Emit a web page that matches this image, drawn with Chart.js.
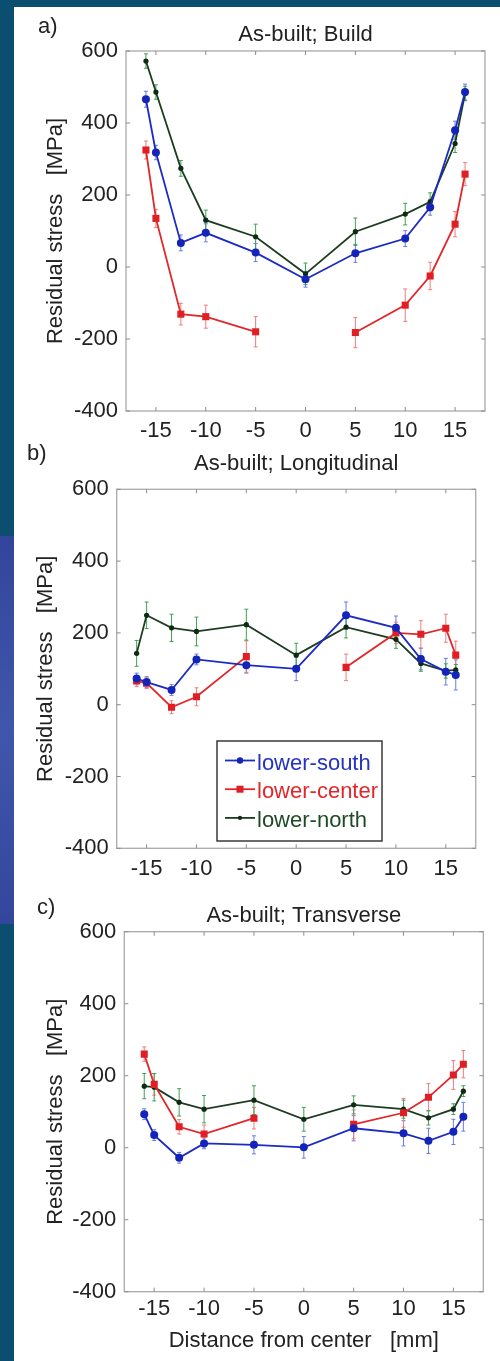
<!DOCTYPE html>
<html><head><meta charset="utf-8">
<script src="https://cdn.jsdelivr.net/npm/chart.js@4.4.0/dist/chart.umd.min.js"></script>
<style>
html,body{margin:0;padding:0;}
body{width:500px;height:1361px;background:#0b4e70;position:relative;overflow:hidden;}
#strip{position:absolute;left:0;top:536px;width:14px;height:388px;background:linear-gradient(#33459a,#3f57aa 50%,#34469b);}
#panel{position:absolute;left:14px;top:7px;width:486px;height:1354px;background:#fff;}
canvas{position:absolute;left:14px;}
</style></head>
<body>
<div id="strip"></div><div id="panel"></div>
<canvas id="ca" width="486" height="440" style="top:7px"></canvas>
<canvas id="cb" width="486" height="446" style="top:440px"></canvas>
<canvas id="cc" width="486" height="475" style="top:886px"></canvas>
<script>
// ---------- data ----------
const positions = [-16, -15, -12.5, -10, -5, 0, 5, 10, 12.5, 15, 16];
const xTickValues = [-15, -10, -5, 0, 5, 10, 15];
const yTickValues = [-400, -200, 0, 200, 400, 600];
const seriesNames = ['lower-south', 'lower-center', 'lower-north'];

// a) As-built; Build
const buildSouth  = [466, 318, 67, 95, 40, -34, 38, 79, 166, 380, 486];
const buildCenter = [325, 135, -131, -138, -180, null, -182, -106, -25, 119, 258];
const buildNorth  = [572, 486, 274, 130, 84, -19, 98, 147, 181, 343, 482];
const buildSouthErr  = [22, 20, 22, 25, 25, 22, 25, 22, 22, 25, 22];
const buildCenterErr = [25, 25, 30, 32, 42, null, 42, 45, 38, 35, 32];
const buildNorthErr  = [20, 20, 22, 28, 35, 30, 38, 30, 25, 25, 20];

// b) As-built; Longitudinal
const longSouth  = [73, 63, 41, 126, 110, 100, 249, 214, 127, 92, 83];
const longCenter = [66, 60, -7, 22, 134, null, 104, 200, 196, 213, 138];
const longNorth  = [143, 249, 214, 204, 223, 138, 216, 182, 115, 94, 97];
const longSouthErr  = [15, 15, 15, 15, 22, 33, 37, 33, 30, 37, 42];
const longCenterErr = [15, 15, 18, 25, 44, null, 37, 30, 38, 39, 39];
const longNorthErr  = [36, 37, 38, 40, 43, 33, 30, 25, 22, 20, 15];

// c) As-built; Transverse
const transSouth  = [93, 35, -28, 12, 8, 1, 54, 40, 19, 44, 86];
const transCenter = [260, 176, 58, 38, 82, null, 65, 97, 140, 202, 232];
const transNorth  = [171, 168, 126, 107, 132, 79, 119, 107, 83, 107, 157];
const transSouthErr  = [15, 15, 15, 15, 25, 30, 35, 35, 35, 35, 40];
const transCenterErr = [20, 30, 20, 25, 30, null, 40, 40, 38, 40, 38];
const transNorthErr  = [35, 38, 38, 38, 40, 33, 25, 25, 20, 15, 15];

// ---------- styles ----------
const FONT = "'Liberation Sans', Arial, Helvetica, sans-serif";
const TXT = '#222222';
const styles = [
  {line: '#1c2bc4', pt: '#1424b8', err: '#6b7ae6', text: '#2433c0', pointStyle: 'circle', r: 4},
  {line: '#e3262a', pt: '#e01f24', err: '#f07c7c', text: '#e3262a', pointStyle: 'rect', r: 5},
  {line: '#1d3d22', pt: '#0f2a14', err: '#3fa055', text: '#1f4a26', pointStyle: 'circle', r: 2.6}
];
Chart.defaults.font.family = FONT;
Chart.defaults.color = TXT;

// ---------- plugins ----------
const matlabPlugin = {
  id: 'matlab',
  beforeDatasetsDraw(chart) {
    const {ctx, chartArea: a, scales: {x, y}} = chart;
    ctx.save();
    // frame
    ctx.strokeStyle = '#a9a9a9';
    ctx.lineWidth = 1.3;
    ctx.strokeRect(a.left, a.top, a.right - a.left, a.bottom - a.top);
    // inward ticks
    ctx.strokeStyle = '#8c8c8c';
    ctx.lineWidth = 1;
    const tl = 4;
    ctx.beginPath();
    x.ticks.forEach(t => {
      const px = x.getPixelForValue(t.value);
      ctx.moveTo(px, a.bottom); ctx.lineTo(px, a.bottom - tl);
      ctx.moveTo(px, a.top); ctx.lineTo(px, a.top + tl);
    });
    y.ticks.forEach(t => {
      const py = y.getPixelForValue(t.value);
      ctx.moveTo(a.left, py); ctx.lineTo(a.left + tl, py);
      ctx.moveTo(a.right, py); ctx.lineTo(a.right - tl, py);
    });
    ctx.stroke();
    // error bars
    chart.data.datasets.forEach((ds, i) => {
      const st = styles[i];
      ctx.strokeStyle = st.err;
      ctx.lineWidth = 1;
      ctx.beginPath();
      ds.data.forEach((p, j) => {
        const e = ds.errors[j];
        if (p.y === null || e === null) return;
        const px = x.getPixelForValue(p.x);
        const y1 = y.getPixelForValue(p.y + e);
        const y2 = y.getPixelForValue(p.y - e);
        ctx.moveTo(px, y1); ctx.lineTo(px, y2);
        ctx.moveTo(px - 2, y1); ctx.lineTo(px + 2, y1);
        ctx.moveTo(px - 2, y2); ctx.lineTo(px + 2, y2);
      });
      ctx.stroke();
    });
    ctx.restore();
  },
  afterDraw(chart, args, opts) {
    const ctx = chart.ctx;
    ctx.save();
    if (opts.letter) {
      ctx.font = '22px ' + FONT;
      ctx.fillStyle = TXT;
      ctx.textBaseline = 'alphabetic';
      ctx.textAlign = 'left';
      ctx.fillText(opts.letter.text, opts.letter.x, opts.letter.y);
    }
    if (opts.legend) {
      const L = opts.legend;
      ctx.fillStyle = '#ffffff';
      ctx.fillRect(L.x, L.y, L.w, L.h);
      ctx.strokeStyle = '#3a3a3a';
      ctx.lineWidth = 1.5;
      ctx.strokeRect(L.x, L.y, L.w, L.h);
      ctx.font = '22px ' + FONT;
      ctx.textBaseline = 'alphabetic';
      ctx.textAlign = 'left';
      chart.data.datasets.forEach((ds, i) => {
        const st = styles[i];
        const base = L.y + L.first + i * L.gap;
        const ly = base - 9;
        ctx.strokeStyle = st.line;
        ctx.lineWidth = 1.8;
        ctx.beginPath();
        ctx.moveTo(L.x + 8, ly); ctx.lineTo(L.x + 38, ly);
        ctx.stroke();
        ctx.fillStyle = st.pt;
        if (st.pointStyle === 'rect') {
          ctx.fillRect(L.x + 23 - 3.5, ly - 3.5, 7, 7);
        } else {
          ctx.beginPath();
          ctx.arc(L.x + 23, ly, st.r * 0.8, 0, Math.PI * 2);
          ctx.fill();
        }
        ctx.fillStyle = st.text;
        ctx.fillText(ds.label, L.x + 40, base);
      });
    }
    ctx.restore();
  }
};

function makeDatasets(values, errs) {
  return values.map((vals, i) => {
    const st = styles[i];
    return {
      label: seriesNames[i],
      data: positions.map((xv, j) => ({x: xv, y: vals[j]})),
      errors: errs[i],
      borderColor: st.line,
      backgroundColor: st.pt,
      pointBackgroundColor: st.pt,
      pointBorderColor: st.pt,
      pointStyle: st.pointStyle,
      pointRadius: st.r,
      pointBorderWidth: 0,
      borderWidth: 1.8,
      spanGaps: false,
      tension: 0,
      fill: false
    };
  });
}

function makeChart(id, cfg) {
  return new Chart(document.getElementById(id), {
    type: 'line',
    data: {datasets: makeDatasets(cfg.values, cfg.errs)},
    plugins: [matlabPlugin],
    options: {
      responsive: false,
      animation: false,
      devicePixelRatio: 1,
      events: [],
      layout: {autoPadding: false, padding: {left: 0, top: 0, right: cfg.R, bottom: 0}},
      plugins: {
        legend: {display: false},
        tooltip: {enabled: false},
        title: {
          display: true, text: cfg.title, fullSize: false,
          color: TXT, font: {size: 22, weight: 'normal', family: FONT},
          padding: {top: cfg.pt, bottom: cfg.pb}
        },
        matlab: {letter: cfg.letter, legend: cfg.legend || null}
      },
      scales: {
        x: {
          type: 'linear', min: -18, max: 18,
          afterBuildTicks: s => { s.ticks = xTickValues.map(v => ({value: v})); },
          afterFit: s => { s.height = cfg.xH; },
          grid: {display: false, drawTicks: false},
          border: {display: false},
          ticks: {padding: cfg.xtPad, autoSkip: false, maxRotation: 0, color: TXT, font: {size: 22}},
          title: {
            display: !!cfg.xTitle, text: 'Distance from center   [mm]',
            color: TXT, font: {size: 22}, padding: {top: 0, bottom: cfg.xTitlePad || 0}
          }
        },
        y: {
          type: 'linear', min: -400, max: 600,
          afterBuildTicks: s => { s.ticks = yTickValues.map(v => ({value: v})); },
          afterFit: s => { s.width = cfg.yW; },
          grid: {display: false, drawTicks: false},
          border: {display: false},
          ticks: {padding: 8, color: TXT, font: {size: 22}},
          title: {
            display: true, text: 'Residual stress   [MPa]',
            color: TXT, font: {size: 22}, padding: {top: cfg.ytPad, bottom: 0}
          }
        }
      }
    }
  });
}

makeChart('ca', {
  title: 'As-built; Build',
  values: [buildSouth, buildCenter, buildNorth],
  errs: [buildSouthErr, buildCenterErr, buildNorthErr],
  R: 15, pt: 15.2, pb: 2.4, yW: 112, ytPad: 28.7, xH: 36, xtPad: 7,
  letter: {text: 'a)', x: 24, y: 26}
});
makeChart('cb', {
  title: 'As-built; Longitudinal',
  values: [longSouth, longCenter, longNorth],
  errs: [longSouthErr, longCenterErr, longNorthErr],
  R: 24.3, pt: 11.2, pb: 11.7, yW: 102.7, ytPad: 18.7, xH: 37.7, xtPad: 7,
  letter: {text: 'b)', x: 13, y: 20},
  legend: {x: 203, y: 301, w: 165, h: 100, first: 28.5, gap: 28.7}
});
makeChart('cc', {
  title: 'As-built; Transverse',
  values: [transSouth, transCenter, transNorth],
  errs: [transSouthErr, transCenterErr, transNorthErr],
  R: 16.7, pt: 17.2, pb: 2.1, yW: 110.3, ytPad: 28.7, xH: 69.3, xtPad: 4,
  xTitle: true, xTitlePad: 6.4,
  letter: {text: 'c)', x: 23, y: 28}
});
</script>
</body></html>
